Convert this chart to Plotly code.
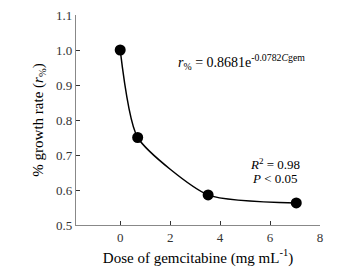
import plotly.graph_objects as go

dose = [0, 0.7, 3.52, 7.05]
growth = [1.0, 0.75, 0.586, 0.563]
x_ticks = [0, 2, 4, 6, 8]
y_ticks = [0.5, 0.6, 0.7, 0.8, 0.9, 1.0, 1.1]

font = "Liberation Serif"
fig = go.Figure()
fig.add_trace(go.Scatter(
    x=dose, y=growth, mode="lines+markers",
    line=dict(color="black", width=1.5, shape="spline", smoothing=0.6),
    marker=dict(color="black", size=11),
    showlegend=False,
))

fig.add_annotation(x=4.85, y=0.966, xref="x", yref="y", showarrow=False,
                   text="<i>r</i><sub>%</sub> = 0.8681e<sup>-0.0782<i>C</i>gem</sup>",
                   font=dict(family=font, size=14, color="black"))
fig.add_annotation(x=6.2, y=0.674, xref="x", yref="y", showarrow=False,
                   text="<i>R</i><sup>2</sup> = 0.98", xanchor="center",
                   font=dict(family=font, size=13, color="black"))
fig.add_annotation(x=6.2, y=0.632, xref="x", yref="y", showarrow=False,
                   text="<i>P</i> < 0.05", xanchor="center",
                   font=dict(family=font, size=13, color="black"))

fig.update_xaxes(range=[-1.77, 8], tickvals=x_ticks, ticks="inside", ticklen=4,
                 tickcolor="#333", showline=True, linecolor="#888", linewidth=1.2,
                 showgrid=False, zeroline=False, automargin=False,
                 ticklabeloverflow="allow",
                 title=dict(text="Dose of gemcitabine (mg mL<sup>-1</sup>)", standoff=8,
                            font=dict(family=font, size=15, color="black")),
                 tickfont=dict(family=font, size=13, color="#333"))
fig.update_yaxes(range=[0.5, 1.1], tickvals=y_ticks, tickformat=".1f", ticks="inside",
                 ticklen=4, tickcolor="#333", showline=True, linecolor="#888",
                 linewidth=1.2, showgrid=False, zeroline=False, automargin=False,
                 ticklabeloverflow="allow",
                 title=dict(text="% growth rate (<i>r</i><sub>%</sub>)", standoff=8,
                            font=dict(family=font, size=15, color="black")),
                 tickfont=dict(family=font, size=13, color="#333"))
fig.update_layout(width=347, height=269, margin=dict(l=68, r=35, t=7, b=52),
                  plot_bgcolor="white", paper_bgcolor="white")
fig.write_html("out.html")
